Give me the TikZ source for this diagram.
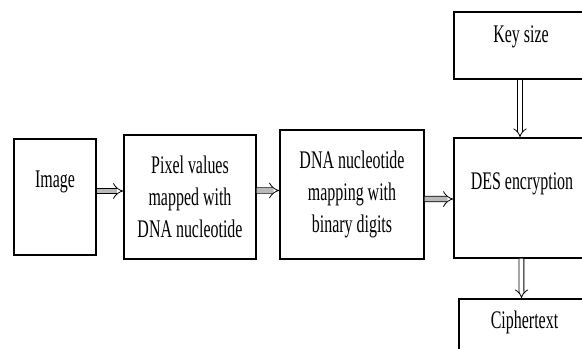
\documentclass[tikz,border=0pt]{standalone}
\usepackage{fontspec}
\setmainfont{Liberation Serif}[FakeStretch=0.63]
\usetikzlibrary{arrows.meta}

\tikzset{
  blk/.style={draw, line width=0.9pt, align=center, inner sep=0pt},
  oneline/.style={text height=0.7em, text depth=#1},
  flow/.style={double=gray!55, double distance=3.6pt, line width=0.6pt, -{Implies}},
  feed/.style={double=white, double distance=3pt, line width=0.6pt, -{Implies}},
}

\begin{document}
\begin{tikzpicture}[x=0.75pt, y=-0.75pt, font=\fontsize{19}{24}\selectfont]

    \clip (0,0) rectangle (582,349);

    % ==========================================================
    % blocks
    % ==========================================================
    \node[blk, oneline=21.7pt, minimum width=61.5pt, minimum height=87pt]
        (img) at (55,197) {Image};
    \node[blk, minimum width=99pt, minimum height=93pt]
        (pix) at (190,197) {Pixel values\\mapped with\\DNA nucleotide};
    \node[blk, minimum width=108pt, minimum height=96.75pt]
        (dna) at (352,194.5) {DNA nucleotide\\mapping with\\binary digits};
    \node[blk, oneline=11.2pt, minimum width=100.5pt, minimum height=50.25pt]
        (key) at (521,45.5) {Key size};
    \node[blk, oneline=20.2pt, minimum width=102pt, minimum height=90pt]
        (des) at (522,198) {DES encryption};
    \node[blk, oneline=8.2pt, minimum width=98.25pt, minimum height=45pt]
        (cip) at (524.5,329) {Ciphertext};

    % ==========================================================
    % arrows
    % ==========================================================
    \draw[flow] ([yshift=4.5pt]img.east) -- ([yshift=4.5pt]pix.west);
    \draw[flow] ([yshift=4.9pt]pix.east) -- ([yshift=3pt]dna.west);
    \draw[flow] ([yshift=-3.4pt]dna.east) -- ([yshift=-0.75pt]des.west);
    \draw[feed] ([xshift=-0.75pt]key.south) -- ([xshift=-1.5pt]des.north);
    \draw[feed] ([xshift=-0.4pt]des.south) -- ([xshift=-2.25pt]cip.north);

\end{tikzpicture}
\end{document}
